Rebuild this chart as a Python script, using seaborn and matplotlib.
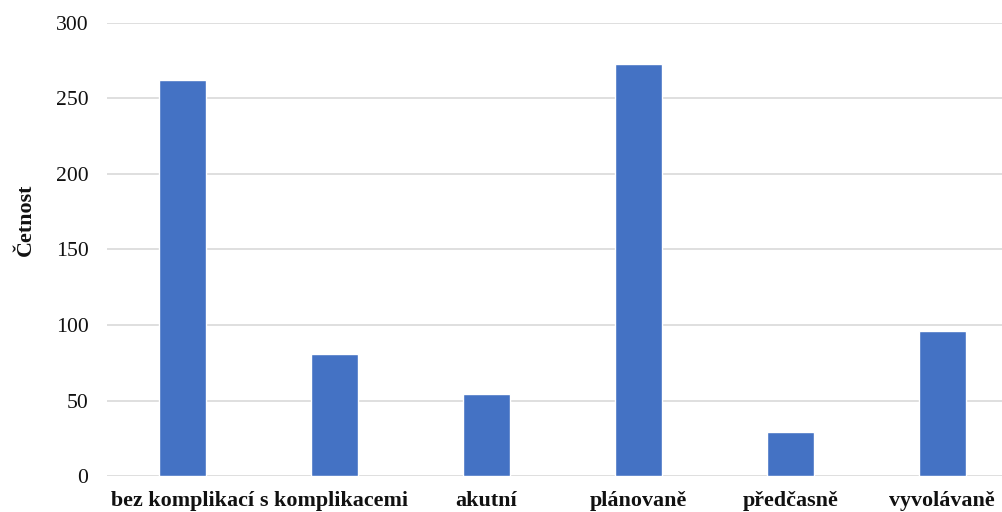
import matplotlib
matplotlib.use("Agg")
import matplotlib.pyplot as plt
import seaborn as sns
import pandas as pd

categories = ["bez komplikací", "s komplikacemi", "akutní", "plánovaně", "předčasně", "vyvolávaně"]
values = [262, 81, 54, 273, 29, 96]
y_ticks = [0, 50, 100, 150, 200, 250, 300]
y_label = "Četnost"

sns.set_theme(style="white")
plt.rcParams['font.family'] = ['Liberation Serif', 'DejaVu Serif']

df = pd.DataFrame({"kategorie": categories, "cetnost": values})

fig = plt.figure(figsize=(10.03, 5.12), dpi=100)
ax = fig.add_axes([0.1062, 0.0703, 0.909, 0.8848])

sns.barplot(data=df, x="kategorie", y="cetnost", color="#4472C4", width=0.31,
            saturation=1, ax=ax, zorder=3)

ax.set_ylim(0, 300)
ax.set_yticks(y_ticks)
ax.set_yticklabels([str(t) for t in y_ticks], fontsize=15.6, color="#111111")
ax.set_xticks(range(len(categories)))
ax.set_xticklabels(categories, fontsize=15.8, fontweight="bold", color="#111111")
ax.tick_params(axis="y", length=0, pad=13)
ax.tick_params(axis="x", length=0, pad=11)
ax.set_xlim(-0.5, len(categories) - 0.5)

ax.yaxis.grid(True, color="#d9d9d9", linewidth=1.2, zorder=0)
ax.set_axisbelow(True)
for s in ax.spines.values():
    s.set_visible(False)

ax.set_xlabel("")
ax.set_ylabel(y_label, fontsize=15.8, fontweight="bold", color="#111111")
ax.yaxis.set_label_coords(-0.078, 0.565)

fig.savefig("out.png", dpi=100)
